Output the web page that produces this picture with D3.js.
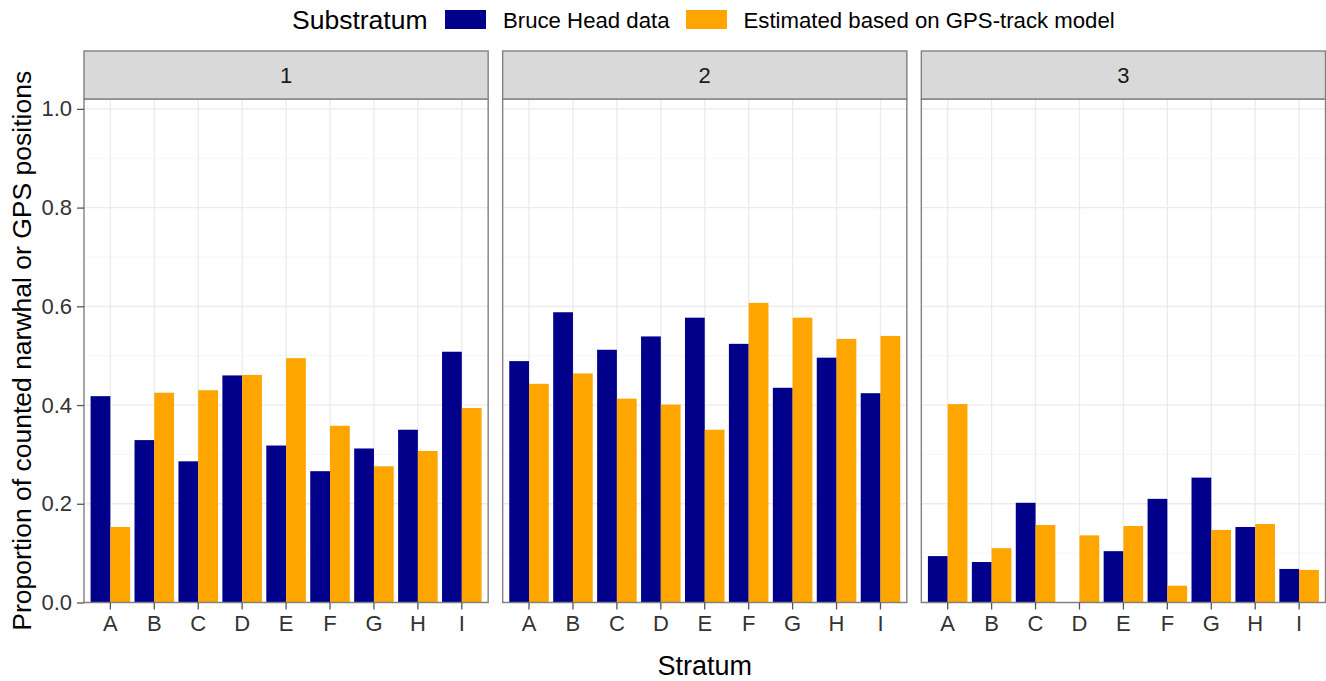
<!DOCTYPE html>
<html>
<head>
<meta charset="utf-8">
<script src="https://cdn.jsdelivr.net/npm/d3@7"></script>
<style>
  html, body { margin: 0; padding: 0; background: #fff; }
  svg { display: block; font-family: "Liberation Sans", Arial, sans-serif; }
</style>
</head>
<body>
<svg id="chart" width="1326" height="681"></svg>
<script>
// Strata (x categories) and substratum facets
const strata = ["A", "B", "C", "D", "E", "F", "G", "H", "I"];
const substrata = ["1", "2", "3"];
const seriesNames = ["Bruce Head data", "Estimated based on GPS-track model"];
const seriesColors = ["#00008B", "#FFA500"];

// Proportions per substratum, one value per stratum A..I
const bruceHead1 = [0.418, 0.329, 0.286, 0.460, 0.318, 0.266, 0.312, 0.350, 0.508];
const gpsModel1  = [0.153, 0.425, 0.430, 0.461, 0.495, 0.358, 0.276, 0.307, 0.394];
const bruceHead2 = [0.489, 0.588, 0.512, 0.539, 0.577, 0.524, 0.435, 0.496, 0.424];
const gpsModel2  = [0.443, 0.464, 0.413, 0.401, 0.350, 0.607, 0.577, 0.534, 0.540];
const bruceHead3 = [0.094, 0.082, 0.202, 0.000, 0.104, 0.210, 0.253, 0.153, 0.068];
const gpsModel3  = [0.402, 0.110, 0.157, 0.136, 0.155, 0.034, 0.147, 0.159, 0.066];

const yTicks = [0, 0.2, 0.4, 0.6, 0.8, 1.0];
const yMinor = [0.1, 0.3, 0.5, 0.7, 0.9];

const panelSeries = [
  [bruceHead1, gpsModel1],
  [bruceHead2, gpsModel2],
  [bruceHead3, gpsModel3]
];

const svg = d3.select("#chart");

// Layout
const plotLeft = 84, plotRight = 1325.5, panelGap = 14.5;
const stripTop = 51, panelTop = 99, panelBottom = 602.5;
const panelW = (plotRight - plotLeft - panelGap * (substrata.length - 1)) / substrata.length;

const y = d3.scaleLinear().domain([0, 1.02]).range([panelBottom, panelTop]);
const x = d3.scaleBand().domain(strata).range([0, panelW]).paddingInner(0.1).paddingOuter(0.15);
const xSeries = d3.scaleBand().domain(seriesNames).range([0, x.bandwidth()]).padding(0);
const color = d3.scaleOrdinal().domain(seriesNames).range(seriesColors);

const tickColor = "#555";
const borderColor = "#808080";
const textColor = "#333";
const tickFont = 22;

substrata.forEach((s, pi) => {
  const x0 = plotLeft + pi * (panelW + panelGap);
  const g = svg.append("g").attr("transform", `translate(${x0},0)`);

  // background
  g.append("rect").attr("x", 0).attr("y", panelTop).attr("width", panelW)
    .attr("height", panelBottom - panelTop).attr("fill", "#fff");

  // minor horizontal grid
  g.selectAll(".yminor").data(yMinor).join("line")
    .attr("x1", 0).attr("x2", panelW)
    .attr("y1", d => y(d)).attr("y2", d => y(d))
    .attr("stroke", "#F4F4F4").attr("stroke-width", 0.8);
  // major horizontal grid
  g.selectAll(".ymajor").data(yTicks).join("line")
    .attr("x1", 0).attr("x2", panelW)
    .attr("y1", d => y(d)).attr("y2", d => y(d))
    .attr("stroke", "#EBEBEB").attr("stroke-width", 1.3);
  // vertical grid at stratum centres
  g.selectAll(".xmajor").data(strata).join("line")
    .attr("x1", d => x(d) + x.bandwidth() / 2).attr("x2", d => x(d) + x.bandwidth() / 2)
    .attr("y1", panelTop).attr("y2", panelBottom)
    .attr("stroke", "#EBEBEB").attr("stroke-width", 1.3);

  // dodged bars
  seriesNames.forEach((name, si) => {
    const vals = panelSeries[pi][si];
    g.selectAll(".bar" + si).data(strata).join("rect")
      .attr("x", (d) => x(d) + xSeries(name))
      .attr("width", xSeries.bandwidth())
      .attr("y", (d, i) => y(vals[i]))
      .attr("height", (d, i) => y(0) - y(vals[i]))
      .attr("fill", color(name));
  });

  // panel border
  g.append("rect").attr("x", 0).attr("y", panelTop).attr("width", panelW)
    .attr("height", panelBottom - panelTop)
    .attr("fill", "none").attr("stroke", borderColor).attr("stroke-width", 1.4);

  // strip
  g.append("rect").attr("x", 0).attr("y", stripTop).attr("width", panelW)
    .attr("height", panelTop - stripTop)
    .attr("fill", "#D9D9D9").attr("stroke", borderColor).attr("stroke-width", 1.4);
  g.append("text").attr("x", panelW / 2).attr("y", (stripTop + panelTop) / 2)
    .attr("dy", "0.36em").attr("text-anchor", "middle")
    .attr("font-size", tickFont).attr("fill", "#1a1a1a").text(s);

  // x axis
  const xAxis = g.append("g").attr("transform", `translate(0,${panelBottom})`)
    .call(d3.axisBottom(x).tickSize(7).tickPadding(6));
  xAxis.select(".domain").remove();
  xAxis.selectAll(".tick line").attr("stroke", tickColor).attr("stroke-width", 1.3);
  xAxis.selectAll(".tick text").attr("font-size", tickFont).attr("fill", textColor)
    .attr("font-family", "Liberation Sans, Arial, sans-serif");

  // y axis on first panel only
  if (pi === 0) {
    const yAxis = g.append("g")
      .call(d3.axisLeft(y).tickValues(yTicks).tickFormat(d3.format(".1f")).tickSize(7).tickPadding(5));
    yAxis.select(".domain").remove();
    yAxis.selectAll(".tick line").attr("stroke", tickColor).attr("stroke-width", 1.3);
    yAxis.selectAll(".tick text").attr("font-size", tickFont).attr("fill", textColor)
      .attr("font-family", "Liberation Sans, Arial, sans-serif");
  }
});

// axis titles
svg.append("text")
  .attr("x", (plotLeft + plotRight) / 2).attr("y", 675)
  .attr("text-anchor", "middle").attr("font-size", 27).attr("fill", "#000")
  .text("Stratum");

svg.append("text")
  .attr("transform", `translate(31,${(panelTop + panelBottom) / 2}) rotate(-90)`)
  .attr("text-anchor", "middle").attr("font-size", 26.5).attr("fill", "#000")
  .text("Proportion of counted narwhal or GPS positions");

// legend
const legend = svg.append("g");
legend.append("text").attr("x", 292).attr("y", 29)
  .attr("font-size", 26.5).attr("fill", "#000").text("Substratum");
const keyX = [445, 686];
const labelX = [503, 743.5];
seriesNames.forEach((name, i) => {
  legend.append("rect").attr("x", keyX[i]).attr("y", 10).attr("width", 41).attr("height", 19)
    .attr("fill", color(name));
  legend.append("text").attr("x", labelX[i]).attr("y", 27.5)
    .attr("font-size", 22.2).attr("fill", "#000").text(name);
});
</script>
</body>
</html>
